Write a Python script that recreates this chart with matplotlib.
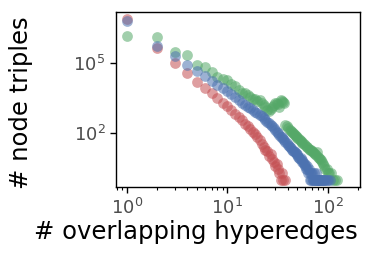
import matplotlib
matplotlib.use("Agg")
import matplotlib.pyplot as plt
from matplotlib.ticker import LogLocator, NullLocator

# number of overlapping hyperedges -> number of node triples
red_x = [1, 2, 3, 4, 5, 6, 7, 8, 9, 10, 11, 12, 13, 14, 15, 16, 17, 18, 19, 20,
         21, 22, 23, 24, 25, 26, 27, 28, 29, 30, 31, 32, 33, 34, 35, 36, 38]
red_y = [7.6e6, 4.4e5, 1.0e5, 3.7e4, 1.6e4, 8500, 5100, 3200, 2000, 1400,
         950, 680, 480, 350, 260, 200, 150, 115, 90, 66,
         52, 35, 25, 20, 18, 11, 13, 8, 6, 4, 5, 3, 2, 1, 2, 1, 1]

blue_x = list(range(1, 83)) + [83, 84, 86, 87, 89, 91, 93, 95, 98, 101, 105]
blue_y = [6.2e6, 5.5e5, 1.95e5, 8.5e4, 4.4e4, 2.7e4, 1.75e4, 1.17e4, 8500, 6200,
          4700, 3600, 2700, 2000, 1650, 1380, 1150, 950, 810, 710,
          620, 525, 440, 370, 315, 270, 230, 195, 160, 138,
          117, 100, 85, 72, 66, 58, 50, 43, 37, 32,
          28, 25, 23, 20, 18, 17, 15, 14, 13, 12,
          10, 9, 8, 9, 7, 6, 6, 5, 4, 5,
          3, 4, 3, 2, 3, 2, 1, 2, 1, 2,
          1, 1, 2, 1, 1, 1, 2, 1, 1, 1,
          1, 1,
          1, 1, 1, 1, 1, 1, 1, 1, 1, 1, 1]

green_x = list(range(1, 41)) + [42, 43, 44, 45, 46, 47, 48, 49, 50, 52, 53, 54,
                                55, 56, 58, 60, 62, 63, 65, 67, 68, 70, 72, 74,
                                75, 77, 79, 80, 82, 84, 85, 87, 90, 92, 95, 98,
                                100, 104, 108, 112, 118, 124]
green_y = [1.5e6, 1.3e6, 3.0e5, 2.3e5, 8.5e4, 7.0e4, 4.3e4, 2.6e4, 2.0e4, 1.9e4,
           12600, 10000, 7100, 5200, 5000, 4200, 3500, 3000, 2800, 2500,
           2700, 2000, 1600, 1260, 1000, 890, 1100, 1350, 1600, 1900,
           2000, 1800, 1260, 2700, 2500, 2200, 2000, 230, 200, 165,
           140, 120, 112, 100, 89, 83, 76, 71, 63, 56, 50, 48,
           42, 40, 35, 30, 26, 25, 22, 20, 19, 18, 16, 14,
           13, 12, 16, 10, 9, 8, 7, 6, 5, 4, 3, 3,
           2, 2, 2, 1, 1, 1]

colors = {'red': '#C44E52', 'blue': '#4C72B0', 'green': '#55A868'}

fig = plt.figure(figsize=(3.75, 2.58), dpi=100)
ax = fig.add_axes([0.309, 0.275, 0.651, 0.678])

ax.scatter(red_x, red_y, s=60, color=colors['red'], alpha=0.55, linewidths=0)
ax.scatter(green_x, green_y, s=60, color=colors['green'], alpha=0.55, linewidths=0)
ax.scatter(blue_x, blue_y, s=60, color=colors['blue'], alpha=0.55, linewidths=0)

ax.set_xscale('log')
ax.set_yscale('log')
ax.set_xlim(0.78, 210)
ax.set_ylim(0.5, 1.5e7)
ax.set_yticks([1e2, 1e5])
ax.yaxis.set_minor_locator(NullLocator())
ax.xaxis.set_major_locator(LogLocator(base=10))

ax.tick_params(axis='both', which='major', labelsize=13, labelcolor='0.3',
               length=4, width=1, direction='out')
ax.tick_params(axis='x', which='minor', length=2.5, width=0.8)
for s in ax.spines.values():
    s.set_linewidth(1)
    s.set_color('black')

ax.set_xlabel('# overlapping hyperedges', fontsize=17.5)
ax.set_ylabel('# node triples', fontsize=17.5)
ax.xaxis.set_label_coords(0.328, -0.19)
ax.yaxis.set_label_coords(-0.34, 0.48)

fig.savefig('out.png', dpi=100)
